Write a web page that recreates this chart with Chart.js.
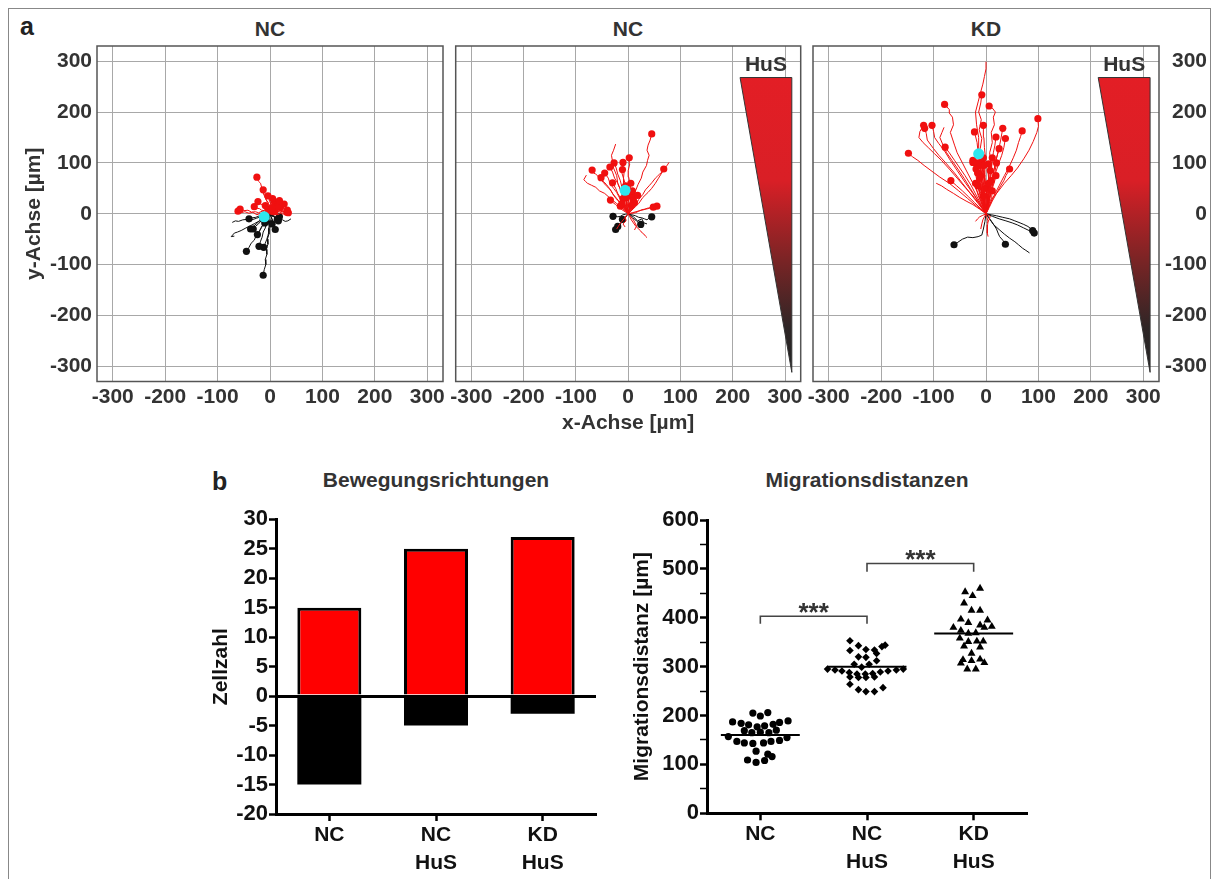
<!DOCTYPE html>
<html lang="de">
<head>
<meta charset="UTF-8">
<title>Migration</title>
<script src="https://cdn.jsdelivr.net/npm/chart.js@4.4.1/dist/chart.umd.min.js"></script>
<style>
  body { margin: 0; background: #fff; width: 1215px; height: 879px; position: relative; overflow: hidden;
         font-family: "Liberation Sans", Arial, sans-serif; }
  canvas { position: absolute; left: 0; top: 0; }
  .lbl { position: absolute; font-weight: bold; line-height: 1; white-space: nowrap; color: #333; font-size: 21px; }
  .ctr { width: 300px; text-align: center; }
  #frame { position: absolute; left: 8px; top: 8px; width: 1201px; height: 900px; border: 1px solid #888; border-bottom: none; }
</style>
</head>
<body>
<div id="frame"></div>
<div class="lbl" style="left:20px;top:14px;font-size:25px;color:#222">a</div>
<div class="lbl ctr" style="left:120px;top:18px">NC</div>
<div class="lbl ctr" style="left:478px;top:18px">NC</div>
<div class="lbl ctr" style="left:836px;top:18px">KD</div>
<div class="lbl" style="left:212px;top:469px;font-size:25px;color:#222">b</div>
<div class="lbl ctr" style="left:286px;top:469px">Bewegungsrichtungen</div>
<div class="lbl ctr" style="left:717px;top:469px">Migrationsdistanzen</div>

<canvas id="a1" width="1215" height="879"></canvas>
<canvas id="a2" width="1215" height="879"></canvas>
<canvas id="a3" width="1215" height="879"></canvas>
<canvas id="b1" width="1215" height="879"></canvas>
<canvas id="b2" width="1215" height="879"></canvas>

<script>
// ---------- data ----------
const axisTicks = [-300, -200, -100, 0, 100, 200, 300];

// tracks as flat x,y lists (um)
// NC (no gradient)
const ncRed = [
  [0,0,-3,8,0,15,-5,22,-8,30,-12,38,-10,45,-16,52,-18,60,-22,64,-25,72],
  [0,0,-2,8,-5,14,-3,22,-8,28,-10,36,-14,42,-13,47],
  [0,0,3,6,1,12,3,18,-1,24,-2,30,-4,35],
  [0,0,-5,4,-8,10,-12,12,-15,18,-20,20,-23,24],
  [0,0,4,5,3,10,8,14,10,20,15,22,18,26],
  [0,0,6,3,12,1,17,4,22,2,27,6,33,7],
  [0,0,-8,2,-15,5,-22,2,-28,4,-35,3,-42,7,-50,6,-57,9],
  [0,0,-10,-2,-18,1,-25,-2,-33,3,-40,1,-48,4,-55,2,-61,5],
  [0,0,2,4,1,8,4,12],
  [0,0,4,3,6,7,9,9,12,12,14,14],
  [0,0,6,-2,10,1,15,-2,20,1,25,-1,29,2,32,3],
  [0,0,-3,5,-4,10,-1,15,1,20,3,25,5,30],
  [0,0,5,3,9,6,14,8,18,12,22,14,27,19],
  [0,0,-6,3,-10,6,-16,7,-20,10,-25,11,-30,14],
  [0,0,5,1,9,4,14,3,18,6,23,4,28,5,35,2],
  [0,0,-3,4,-4,9,-9,16],
  [0,0,3,6,6,12,10,17,8,24],
  [0,0,2,3,6,5,9,4],
  [0,0,-3,2,-6,6,-4,9],
  [0,0,4,-1,8,2,12,6,16,10,20,12]
];
const ncBlack = [
  [0,0,-2,-10,0,-20,-3,-30,-2,-40,-5,-50,-4,-60,-7,-70,-6,-80,-9,-90,-8,-100,-11,-110,-13,-121],
  [0,0,-5,-8,-10,-18,-16,-25,-20,-35,-26,-42,-30,-52,-36,-58,-40,-66,-45,-74],
  [0,0,-3,-10,-7,-18,-9,-28,-13,-36,-15,-46,-18,-54,-21,-64],
  [0,0,-5,-6,-8,-14,-13,-20,-16,-27,-20,-33,-24,-41],
  [0,0,-6,-4,-11,-10,-17,-14,-22,-20,-28,-25,-32,-30],
  [0,0,2,-6,5,-12,4,-18,7,-24,10,-31],
  [0,0,-7,-3,-13,-9,-19,-13,-25,-19,-31,-24,-37,-30],
  [0,0,-7,-2,-13,-5,-20,-4,-27,-7,-34,-8,-40,-10],
  [0,0,4,-3,8,-4,11,-8,14,-11],
  [0,0,3,-4,6,-5,10,-8,14,-6,18,-6],
  [0,0,-2,-5,-5,-8,-7,-13,-10,-18],
  [0,0,-2,-9,-3,-18,-1,-27,-2,-35,-4,-43,-6,-50,-9,-58,-12,-66],
  [0,0,4,-4,9,-7,12,-11,16,-14],
  [0,0,-4,-3,-9,-6,-14,-8],
  [0,0,3,-8,1,-15,4,-20]
];
const ncBlackOpen = [
  [0,0,-8,-3,-18,-6,-26,-9,-35,-12,-44,-11,-52,-12,-60,-15,-66,-14,-72,-17],
  [0,0,-10,-6,-20,-14,-29,-19,-38,-24,-46,-28,-55,-33,-62,-36,-68,-38,-74,-45,-68,-44],
  [0,0,6,-5,12,-8,18,-10,24,-12,29,-15,34,-14,40,-10]
];
const ncRedOpen = [];
const ncMean = [-11, -6];

// NC + HuS
const hRed = [
  [0,0,3,10,6,20,10,32,14,45,19,58,25,70,28,82,35,95,37,105,40,115,36,125,38,135,42,145,45,157],
  [0,0,8,8,15,18,20,28,28,38,33,47,40,55,46,62,52,70,56,74,60,78,65,82,68,88],
  [0,0,-6,8,-12,18,-20,26,-28,36,-33,46,-42,55,-48,62,-55,70,-58,74,-62,78,-66,80,-69,86],
  [0,0,-5,10,-10,22,-16,30,-22,42,-28,50,-35,60,-38,70,-45,80],
  [0,0,-7,10,-14,20,-22,30,-30,40,-36,50,-42,58,-48,64,-52,71],
  [0,0,-4,12,-8,25,-11,37,-16,50,-20,60,-26,70,-30,82,-35,92],
  [0,0,-2,12,-5,25,-8,38,-12,52,-15,65,-20,78,-23,90,-27,100],
  [0,0,-2,12,-3,25,-6,38,-6,50,-9,60,-9,70,-12,80,-11,87],
  [0,0,2,15,0,30,4,45,3,60,1,72,0,85,3,98,2,110],
  [0,0,-2,14,-3,28,-5,42,-6,60,-9,70,-8,80,-11,90,-10,101],
  [0,0,-5,10,-10,20,-14,30,-20,40,-24,50,-30,61],
  [0,0,3,6,6,12,9,18,12,24,15,30,18,36],
  [0,0,8,2,15,4,22,6,30,8,37,11,44,12,50,14,55,15],
  [0,0,7,1,14,2,20,5,26,8,32,9,38,10,43,12,48,13],
  [0,0,-6,4,-12,8,-18,13,-24,18,-29,22,-34,27],
  [0,0,-2,6,-4,12,-1,18,-2,24,-4,28,-3,32],
  [0,0,2,8,4,15,5,22,6,30,9,38,8,45],
  [0,0,-3,5,-6,10,-9,15,-12,20],
  [0,0,2,4,3,8,5,12,6,16],
  [0,0,4,5,8,10,11,15,14,20,12,23,10,26],
  [0,0,-3,8,-6,15,-8,22,-10,30],
  [0,0,4,8,6,18,8,25,8,35],
  [0,0,-5,6,-10,10,-15,15],
  [0,0,5,5,9,12,12,22],
  [0,0,-2,15,-4,30,-3,42,-5,55],
  [0,0,3,15,4,30,3,45,5,60]
];
const hBlack = [
  [0,0,-5,-1,-10,-2,-15,-5,-20,-6,-25,-4,-29,-5],
  [0,0,-4,-5,-8,-10,-12,-16,-16,-22,-20,-26,-24,-31],
  [0,0,7,-2,14,-4,20,-7,26,-8,31,-10,36,-12,40,-8,45,-6],
  [0,0,-3,-3,-5,-6,-8,-8,-11,-11],
  [0,0,4,-4,8,-8,12,-11,16,-14,20,-18,24,-21],
  [0,0,-6,-8,-12,-16,-16,-20,-20,-25]
];
const hBlackOpen = [
  [0,0,10,-6,18,-14,26,-10,30,-18,36,-20]
];
const hRedOpen = [
  [0,0,10,10,20,20,28,32,38,42,45,50,52,60,58,70,64,80,68,86,72,92,75,96,78,101],
  [0,0,-5,15,-10,30,-14,45,-20,60,-22,75,-28,90,-30,103,-32,115,-28,125,-24,137],
  [0,0,-10,10,-22,20,-34,30,-45,40,-55,45,-62,52,-70,56,-78,60,-82,64,-85,67,-80,76],
  [0,0,3,-6,6,-12,10,-18,14,-24,19,-29,24,-34,27,-38,30,-40,33,-44,36,-47],
  [0,0,-4,-5,-8,-10,-12,-15,-16,-20,-19,-25,-22,-30],
  [0,0,5,-6,10,-12,13,-18,16,-24,14,-28,12,-32],
  [0,0,-6,-6,-4,-14,-10,-20,-6,-26]
];
const hMean = [-6, 46];

// KD + HuS
const kRed = [
  [0,0,-3,20,2,38,-4,55,-2,75,-8,92,-5,110,-11,128,-8,148,-13,165,-9,185,-14,200,-10,218,-8,234],
  [0,0,3,20,1,40,6,60,4,80,9,100,7,120,12,140,10,160,16,175,14,190,18,200,12,208,6,212],
  [0,0,-8,20,-15,40,-25,60,-35,80,-45,100,-55,120,-60,135,-68,160,-62,175,-64,190,-70,198,-70,205,-79,215],
  [0,0,-12,18,-25,35,-40,52,-55,70,-70,88,-85,105,-98,118,-110,130,-120,140,-128,150,-126,162,-119,174],
  [0,0,-15,20,-30,40,-45,60,-60,80,-75,98,-90,115,-100,128,-112,145,-114,158,-117,168],
  [0,0,-12,20,-25,40,-40,62,-55,85,-68,105,-80,125,-90,138,-98,150,-100,162,-103,174],
  [0,0,-18,15,-35,30,-52,45,-70,60,-88,72,-105,85,-118,95,-130,105,-140,112,-148,119],
  [0,0,-9,18,-18,35,-28,55,-40,75,-50,90,-60,105,-70,120,-78,131],
  [0,0,-2,20,-4,40,-8,60,-10,80,-12,100,-15,120,-17,140,-22,161],
  [0,0,1,20,0,40,-2,60,-2,90,-1,110,-3,130,-4,150,-5,174],
  [0,0,2,20,4,40,6,60,8,80,11,100,14,120,17,135,19,151],
  [0,0,3,20,6,40,10,60,14,80,18,100,24,125,28,145,32,168],
  [0,0,4,20,8,40,13,60,18,80,24,98,30,115,34,130,37,148],
  [0,0,7,18,15,35,25,55,35,75,44,92,52,110,58,125,62,140,66,152,69,163],
  [0,0,6,15,12,30,24,45,35,60,48,75,60,90,72,108,82,125,90,142,97,160,100,172,99,187],
  [0,0,3,20,6,40,10,60,14,80,17,95,20,110,25,128],
  [0,0,-11,11,-22,22,-33,33,-45,45,-56,55,-67,65],
  [0,0,-3,18,-6,35,-10,52,-15,70,-20,85,-25,101],
  [0,0,-2,15,-5,30,-8,45,-12,60,-16,75,-19,88],
  [0,0,3,12,6,25,9,38,12,50,16,62,19,75],
  [0,0,6,12,12,25,20,40,28,55,34,65,38,75,42,82,45,88],
  [0,0,-2,12,-4,25,-6,38,-9,50,-11,60,-12,70],
  [0,0,1,10,2,20,3,30,4,40,4,50,5,60],
  [0,0,-2,10,-5,20,-8,30,-10,40,-13,48,-15,55],
  [0,0,2,8,5,15,7,23,10,30,11,38,12,45],
  [0,0,-1,8,-2,15,-4,25,-5,35],
  [0,0,-5,15,-10,30,-12,42,-14,55,-15,68,-16,80],
  [0,0,2,18,3,35,0,52,-2,70,-3,82,-4,95],
  [0,0,-3,20,-6,40,-8,60,-10,80,-12,95],
  [0,0,-5,20,-8,40,-12,60,-15,80,-18,100],
  [0,0,-2,25,-4,50,-6,75,-8,105],
  [0,0,2,20,3,40,4,60,5,80,5,98],
  [0,0,-4,18,-8,36,-12,55,-15,80],
  [0,0,-3,15,-6,30,-8,45,-10,60,-10,75],
  [0,0,3,18,5,36,7,55,8,70,8,85],
  [0,0,-5,12,-10,24,-15,36,-18,48,-20,60],
  [0,0,4,15,7,30,9,45,10,65],
  [0,0,0,12,1,25,0,38,0,50],
  [0,0,-2,25,-3,50,-4,80,-5,110],
  [0,0,4,25,7,50,10,80,12,110],
  [0,0,5,20,10,45,15,70,20,100],
  [0,0,-8,25,-15,50,-20,80,-25,105]
];
const kBlack = [
  [0,0,-2,-15,-5,-30,-8,-42,-15,-45,-25,-47,-35,-46,-45,-50,-55,-57,-61,-61],
  [0,0,5,-8,10,-15,15,-22,20,-30,23,-38,26,-45,32,-52,37,-60],
  [0,0,10,-2,20,-4,32,-7,45,-10,55,-14,65,-18,72,-21,80,-25,85,-29,89,-33],
  [0,0,12,-5,25,-10,38,-14,50,-18,60,-22,72,-28,82,-33,92,-38]
];
const kBlackOpen = [
  [0,0,8,-11,15,-22,25,-31,35,-40,45,-48,55,-55,62,-61,70,-68,76,-72,83,-77]
];
const kRedOpen = [
  [0,0,-3,25,-6,50,-8,75,-10,100,-14,125,-14,150,-18,175,-20,200,-15,220,-10,240,-6,255,-3,270,0,285,0,299],
  [0,0,-12,9,-25,18,-38,25,-50,32,-62,40,-75,48,-85,55,-95,60],
  [0,0,-15,25,-30,50,-42,70,-55,90,-65,105,-75,120,-82,135,-88,150,-84,160,-80,170],
  [0,0,-3,-6,-6,-12,-8,-20,-10,-30],
  [0,0,2,-8,4,-15,3,-22,2,-30,3,-38,4,-45],
  [0,0,-6,-3,-12,-6,-16,-10,-20,-15],
  [0,0,8,-5,6,-12,2,-18]
];
const kMean = [-14, 118];

// Bewegungsrichtungen
const groups = [['NC'], ['NC', 'HuS'], ['KD', 'HuS']];
const towardHuS = [15, 25, 27];
const awayHuS = [-15, -5, -3];

// Migrationsdistanzen: [x offset within group, distance um]
const distNC = [
  [-0.07,205],[0,199],[0.07,206],
  [-0.26,187],[-0.18,184],[-0.11,181],[-0.03,177],[0.04,179],[0.12,182],[0.18,186],[0.26,189],
  [-0.15,169],[-0.08,165],[0,166],[0.08,165],[0.15,170],
  [-0.30,157],[0.25,155],
  [-0.22,147],[-0.15,144],[-0.07,143],[0.03,144],[0.10,147],[0.18,149],
  [-0.04,127],[0.07,121],[0.11,116],
  [-0.12,109],[-0.04,104],[0.04,108]
];
const distNCHuS = [
  [-0.16,353],[-0.08,343],[-0.01,335],[0.07,334],[0.14,341],[0.17,344],
  [-0.16,333],[-0.08,320],[-0.01,319],[0.09,327],[0.09,312],
  [-0.12,305],[-0.05,299],[0.02,305],
  [-0.37,295],[-0.30,293],[-0.235,291],[-0.166,288],[-0.094,285],[-0.016,285],[0.053,286],[0.125,289],[0.197,291],[0.275,293],[0.34,295],
  [-0.16,279],[-0.08,278],[-0.01,278],[0.07,279],
  [-0.16,264],[-0.08,253],[-0.01,249],[0.07,249],[0.15,257]
];
const distKDHuS = [
  [0.06,460],[-0.08,453],[-0.01,445],[-0.09,430],[-0.02,415],[0.06,415],
  [-0.12,397],[-0.05,390],[0.13,395],[0.06,385],[0.10,380],[0.17,382],[-0.19,380],[-0.12,374],[-0.05,368],[0.02,369],
  [-0.13,358],[-0.05,351],[0.03,352],[0.09,352],[-0.09,342],[0.06,340],[-0.02,327],
  [-0.10,314],[-0.02,312],[0.06,315],[-0.12,307],[0.10,308],[-0.06,295],[0.02,295]
];
const distMeans = [160, 300, 368];
// significance: [from group, to group, foot, top]
const sigBrackets = [[0, 1, 388, 403], [1, 2, 494, 511]];
const sigLabel = '***';

// ---------- drawing ----------
Chart.defaults.font.family = '"Liberation Sans", Arial, sans-serif';
const tickFont = {size: 21, weight: 'bold'};
const RED = '#f01010', BLK = '#111';

function pts(flat) {
  const p = [];
  for (let i = 0; i < flat.length; i += 2) p.push({x: flat[i], y: flat[i + 1]});
  return p;
}

function trackSets(list, color, dot) {
  return list.map(t => {
    const last = t.length / 2 - 1;
    return {
      data: pts(t), showLine: true, borderColor: color, borderWidth: 1, backgroundColor: color,
      pointRadius: c => (dot && c.dataIndex === last ? 3.6 : 0), pointBorderWidth: 0, pointHoverRadius: 0
    };
  });
}

const boxPlugin = {
  id: 'box',
  beforeDatasetsDraw(c) {
    const a = c.chartArea, x = c.ctx;
    x.save();
    x.strokeStyle = '#555';
    x.lineWidth = 1.5;
    x.strokeRect(a.left, a.top, a.right - a.left, a.bottom - a.top);
    x.restore();
  }
};

// HuS gradient wedge, in axis units
const husPlugin = {
  id: 'hus',
  beforeDatasetsDraw(c) {
    const sx = c.scales.x, sy = c.scales.y, x = c.ctx;
    const x0 = sx.getPixelForValue(214), x1 = sx.getPixelForValue(313);
    const y0 = sy.getPixelForValue(268), y1 = sy.getPixelForValue(-312);
    const g = x.createLinearGradient(0, y0, 0, y1);
    g.addColorStop(0, '#e31e25');
    g.addColorStop(0.35, '#d91f26');
    g.addColorStop(0.62, '#7a2425');
    g.addColorStop(0.85, '#2e2626');
    g.addColorStop(1, '#222');
    x.save();
    x.beginPath();
    x.moveTo(x0, y0); x.lineTo(x1, y0); x.lineTo(x1, y1); x.closePath();
    x.fillStyle = g; x.fill();
    x.strokeStyle = '#333'; x.lineWidth = 1; x.stroke();
    x.fillStyle = '#333';
    x.font = 'bold 21px "Liberation Sans", Arial, sans-serif';
    x.textAlign = 'center';
    x.textBaseline = 'alphabetic';
    x.fillText('HuS', (x0 + x1) / 2, y0 - 7);
    x.restore();
  }
};

function trackChart(id, area, yPos, sets, hus, xTitle) {
  const yW = yPos === 'left' ? 75.6 : (yPos === 'right' ? 48 : 0);
  const xH = 54;
  // first dataset is drawn on top
  const datasets = [].concat(
    [{data: [{x: sets.mean[0], y: sets.mean[1]}], backgroundColor: '#2ee6ee', pointRadius: 5.5, pointBorderWidth: 0}],
    trackSets(sets.red, RED, true),
    trackSets(sets.redOpen, RED, false),
    trackSets(sets.black, BLK, true),
    trackSets(sets.blackOpen, BLK, false)
  );
  new Chart(document.getElementById(id), {
    type: 'scatter',
    data: {datasets},
    options: {
      animation: false, responsive: false,
      layout: {padding: {
        left: area.l - (yPos === 'left' ? yW : 0), top: area.t,
        right: 1215 - area.r - (yPos === 'right' ? yW : 0), bottom: 879 - area.b - xH
      }},
      plugins: {legend: {display: false}, tooltip: {enabled: false}},
      scales: {
        x: {
          type: 'linear', min: -330, max: 330,
          afterBuildTicks: s => { s.ticks = axisTicks.map(v => ({value: v})); },
          afterFit: s => { s.height = xH; },
          grid: {color: '#a8a8a8', lineWidth: 1, drawTicks: false},
          border: {display: false},
          ticks: {padding: 3, font: tickFont, color: '#333', callback: v => String(v), maxRotation: 0, autoSkip: false},
          title: {display: !!xTitle, text: xTitle || '', font: tickFont, color: '#333', padding: 0}
        },
        y: {
          type: 'linear', min: -330, max: 330, position: yPos === 'right' ? 'right' : 'left',
          afterBuildTicks: s => { s.ticks = axisTicks.map(v => ({value: v})); },
          afterFit: s => { s.width = yW; },
          grid: {color: '#a8a8a8', lineWidth: 1, drawTicks: false},
          border: {display: false},
          ticks: {display: yPos !== 'none', padding: 5, font: tickFont, color: '#333', callback: v => String(v),
                  crossAlign: yPos === 'right' ? 'far' : 'near', autoSkip: false},
          title: {display: yPos === 'left', text: 'y-Achse [µm]', font: tickFont, color: '#333', padding: 0}
        }
      }
    },
    plugins: hus ? [boxPlugin, husPlugin] : [boxPlugin]
  });
}

trackChart('a1', {l: 97, t: 46, r: 443, b: 381.5}, 'left',
  {red: ncRed, black: ncBlack, redOpen: ncRedOpen, blackOpen: ncBlackOpen, mean: ncMean}, false);
trackChart('a2', {l: 455.7, t: 46, r: 800.7, b: 381.5}, 'none',
  {red: hRed, black: hBlack, redOpen: hRedOpen, blackOpen: hBlackOpen, mean: hMean}, true, 'x-Achse [µm]');
trackChart('a3', {l: 813, t: 46, r: 1159, b: 381.5}, 'right',
  {red: kRed, black: kBlack, redOpen: kRedOpen, blackOpen: kBlackOpen, mean: kMean}, true);

// b: bar chart
const bFont = {size: 22, weight: 'bold'};
const bxFont = {size: 21, weight: 'bold', lineHeight: 1.333};

new Chart(document.getElementById('b1'), {
  type: 'bar',
  data: {
    labels: groups,
    datasets: [
      {data: towardHuS, backgroundColor: '#ff0000', borderColor: '#000', borderWidth: 3},
      {data: awayHuS, backgroundColor: '#000', borderColor: '#000', borderWidth: 0}
    ]
  },
  options: {
    animation: false, responsive: false,
    layout: {padding: {left: 209, top: 519.3, right: 619, bottom: 5}},
    plugins: {legend: {display: false}, tooltip: {enabled: false}},
    datasets: {bar: {barPercentage: 0.6, categoryPercentage: 1}},
    scales: {
      x: {
        stacked: true,
        afterFit: s => { s.height = 60; },
        grid: {offset: false, drawOnChartArea: false, tickLength: 7, tickColor: '#000', tickWidth: 2.5},
        border: {color: '#000', width: 3},
        ticks: {font: bxFont, color: '#111', padding: 0, maxRotation: 0}
      },
      y: {
        stacked: true, min: -20, max: 30,
        ticks: {stepSize: 5, font: bFont, color: '#111', padding: 1, callback: v => String(v), autoSkip: false},
        afterFit: s => { s.width = 67; },
        grid: {
          color: c => (c.tick && c.tick.value === 0 ? '#000' : 'rgba(0,0,0,0)'),
          lineWidth: c => (c.tick && c.tick.value === 0 ? 3 : 1),
          tickLength: 7, tickColor: '#000', tickWidth: 2.5
        },
        border: {color: '#000', width: 3},
        title: {display: true, text: 'Zellzahl', font: tickFont, color: '#111', padding: 0}
      }
    }
  }
});

// b: dot plot
function groupPts(list, g) { return list.map(p => ({x: g + p[0], y: p[1]})); }

const starPlugin = {
  id: 'stars',
  afterDatasetsDraw(c) {
    const sx = c.scales.x, sy = c.scales.y, x = c.ctx;
    x.save();
    x.fillStyle = '#333';
    x.font = 'bold 26px "Liberation Sans", Arial, sans-serif';
    x.textAlign = 'center';
    x.textBaseline = 'alphabetic';
    sigBrackets.forEach(b => {
      x.fillText(sigLabel, sx.getPixelForValue((b[0] + b[1]) / 2), sy.getPixelForValue(b[3]) + 4.5);
    });
    x.restore();
  }
};

const meanHalf = 0.37;
const dotSets = [
  {data: groupPts(distNC, 0), pointStyle: 'circle', pointRadius: 3.6},
  {data: groupPts(distNCHuS, 1), pointStyle: 'rectRot', pointRadius: 3.8},
  {data: groupPts(distKDHuS, 2), pointStyle: 'triangle', pointRadius: 4.6}
].map(d => Object.assign(d, {backgroundColor: '#000', borderColor: '#000', borderWidth: 0}));

distMeans.forEach((m, g) => dotSets.push({
  data: [{x: g - meanHalf, y: m}, {x: g + meanHalf, y: m}], showLine: true,
  borderColor: '#000', borderWidth: 2, pointRadius: 0
}));
sigBrackets.forEach(b => dotSets.push({
  data: [{x: b[0], y: b[2]}, {x: b[0], y: b[3]}, {x: b[1], y: b[3]}, {x: b[1], y: b[2]}], showLine: true,
  borderColor: '#444', borderWidth: 1.6, pointRadius: 0
}));

new Chart(document.getElementById('b2'), {
  type: 'scatter',
  data: {datasets: dotSets},
  options: {
    animation: false, responsive: false,
    layout: {padding: {left: 630, top: 520, right: 188, bottom: 5.7}},
    plugins: {legend: {display: false}, tooltip: {enabled: false}},
    scales: {
      x: {
        type: 'linear', min: -0.5, max: 2.5,
        afterBuildTicks: s => { s.ticks = groups.map((g, i) => ({value: i})); },
        afterFit: s => { s.height = 60; },
        grid: {drawOnChartArea: false, tickLength: 7, tickColor: '#000', tickWidth: 2.5},
        border: {color: '#000', width: 3},
        ticks: {font: bxFont, color: '#111', padding: 0, callback: v => groups[v], maxRotation: 0, autoSkip: false}
      },
      y: {
        min: 0, max: 600,
        ticks: {stepSize: 50, font: bFont, color: '#111', padding: 1, autoSkip: false,
                callback: v => (v % 100 === 0 ? String(v) : '')},
        afterFit: s => { s.width = 77; },
        grid: {drawOnChartArea: false, tickLength: 7, tickColor: '#000',
               tickWidth: c => (c.tick && c.tick.value % 100 === 0 ? 2.5 : 1.5)},
        border: {color: '#000', width: 3},
        title: {display: true, text: 'Migrationsdistanz [µm]', font: tickFont, color: '#111', padding: 0}
      }
    }
  },
  plugins: [starPlugin]
});
</script>
</body>
</html>
